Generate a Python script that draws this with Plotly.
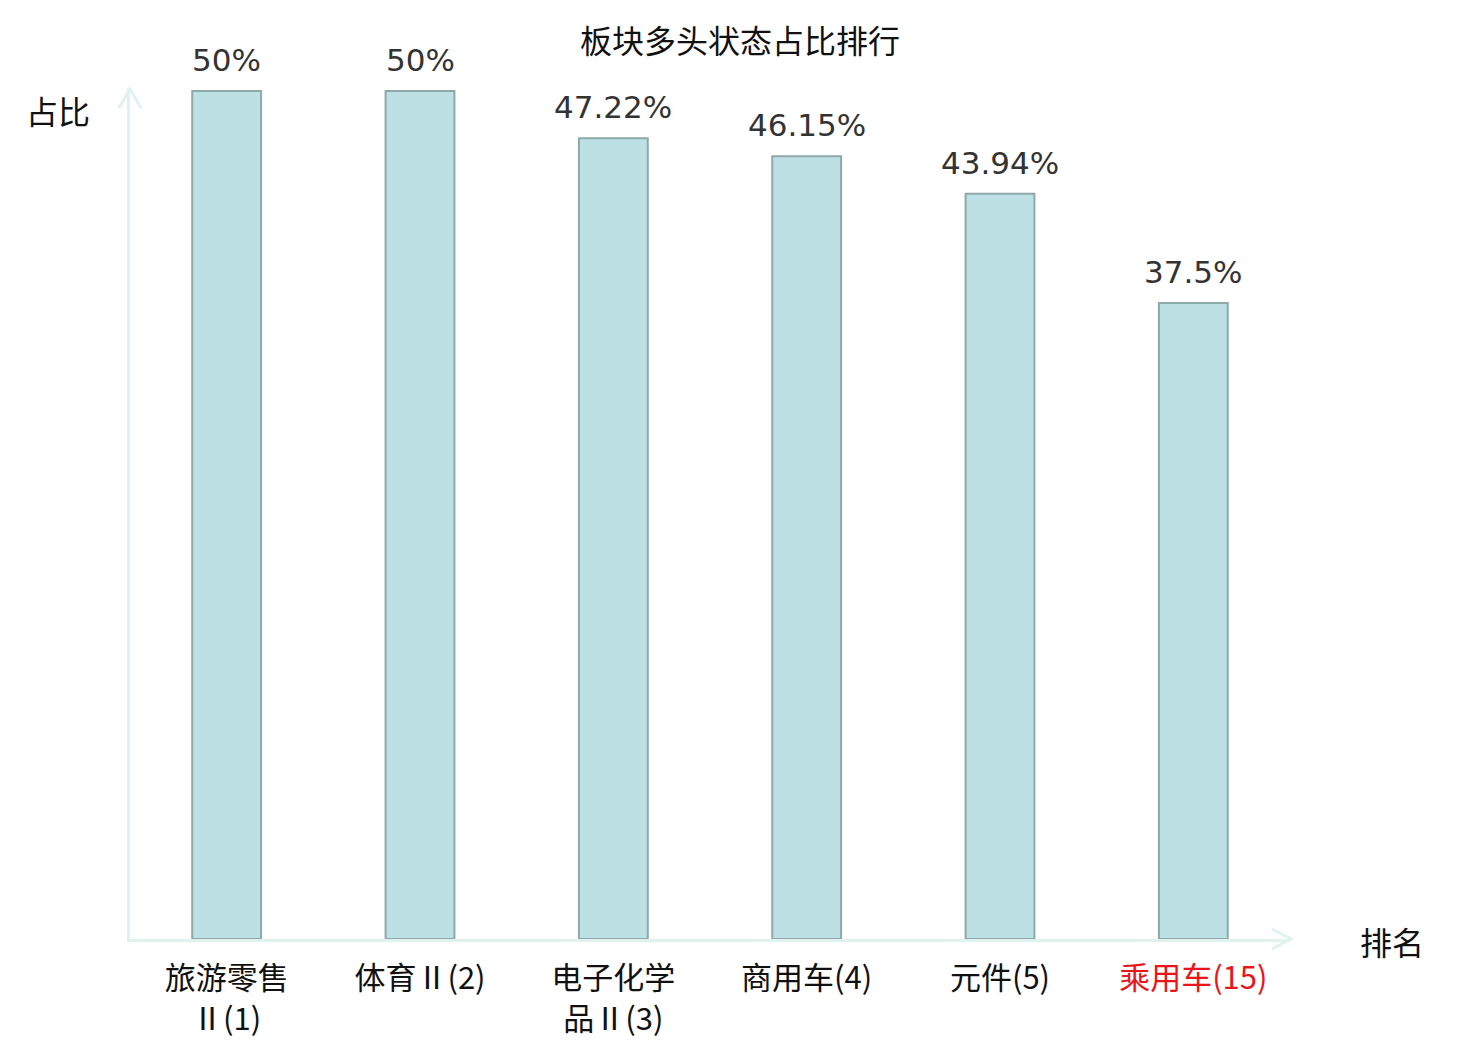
import plotly.graph_objs as go

# data
sectors = ['旅游零售<br>Ⅱ(1)', '体育Ⅱ(2)', '电子化学<br>品Ⅱ(3)', '商用车(4)', '元件(5)',
           "<span style='color:#e8161b'>乘用车(15)</span>"]
ratios = [50, 50, 47.22, 46.15, 43.94, 37.5]

# page is 1480x1040, the body has an 8px margin
OFF = 8
W, H = 1480 - OFF, 1040 - OFF
L, R, T, B = 130 - OFF, 190, 88 - OFF, 101
PW, PH = W - L - R, H - T - B
AXIS_COLOR = '#dff2f0'


def px(x, y):
    # page pixel -> paper coords
    return (x - OFF - L) / PW, (OFF + T + PH - y) / PH


def chevron(points):
    pts = [px(x, y) for x, y in points]
    d = 'M {} {} L {} {} L {} {}'.format(*[c for p in pts for c in p])
    return dict(type='path', xref='paper', yref='paper', path=d,
                line=dict(color=AXIS_COLOR, width=3))


def main():
    cats = list(range(len(sectors)))
    fig = go.Figure()
    fig.add_trace(go.Bar(
        x=cats, y=ratios, width=0.356,
        marker=dict(color='#bce0e3', line=dict(color='#8fa9aa', width=2)),
        hoverinfo='skip'))

    for c, v in zip(cats, ratios):
        fig.add_annotation(x=c, y=v, text=f'{v:g}%', showarrow=False,
                           yanchor='bottom', yshift=11,
                           font=dict(family='DejaVu Sans', size=31, color='#333333'))

    fig.add_annotation(xref='paper', yref='paper', x=px(92, 0)[0], y=px(0, 110)[1],
                       xanchor='right', yanchor='middle', showarrow=False, text='占比',
                       font=dict(family='Noto Sans CJK SC', size=32, color='#111111'))
    fig.add_annotation(xref='paper', yref='paper', x=px(1392, 0)[0], y=px(0, 941)[1],
                       xanchor='center', yanchor='middle', showarrow=False, text='排名',
                       font=dict(family='Noto Sans CJK SC', size=32, color='#111111'))

    fig.update_layout(
        width=W, height=H,
        margin=dict(l=L, r=R, t=T, b=B, autoexpand=False),
        plot_bgcolor='white', paper_bgcolor='white',
        showlegend=False,
        title=dict(text='板块多头状态占比排行', x=(740 - OFF) / W, xref='container',
                   xanchor='center', y=1 - (42 - OFF) / H, yanchor='middle',
                   font=dict(family='Noto Sans CJK SC', size=32, color='#111111')),
        xaxis=dict(range=[-0.5, 5.5], tickvals=cats, ticktext=sectors, automargin=False,
                   showgrid=False, zeroline=False, showline=True,
                   linecolor=AXIS_COLOR, linewidth=3,
                   ticks='outside', ticklen=10, tickcolor='rgba(0,0,0,0)',
                   tickfont=dict(family='Noto Sans CJK SC', size=31, color='#111111')),
        yaxis=dict(range=[0, 50 * PH / 848], showticklabels=False, showgrid=False,
                   automargin=False, zeroline=False, showline=True,
                   linecolor=AXIS_COLOR, linewidth=3),
        shapes=[chevron([(119, 108), (130, 89), (141, 108)]),
                chevron([(1272, 929), (1291, 939), (1272, 949)])],
    )
    fig.write_html('out.html')


if __name__ == '__main__':
    main()
